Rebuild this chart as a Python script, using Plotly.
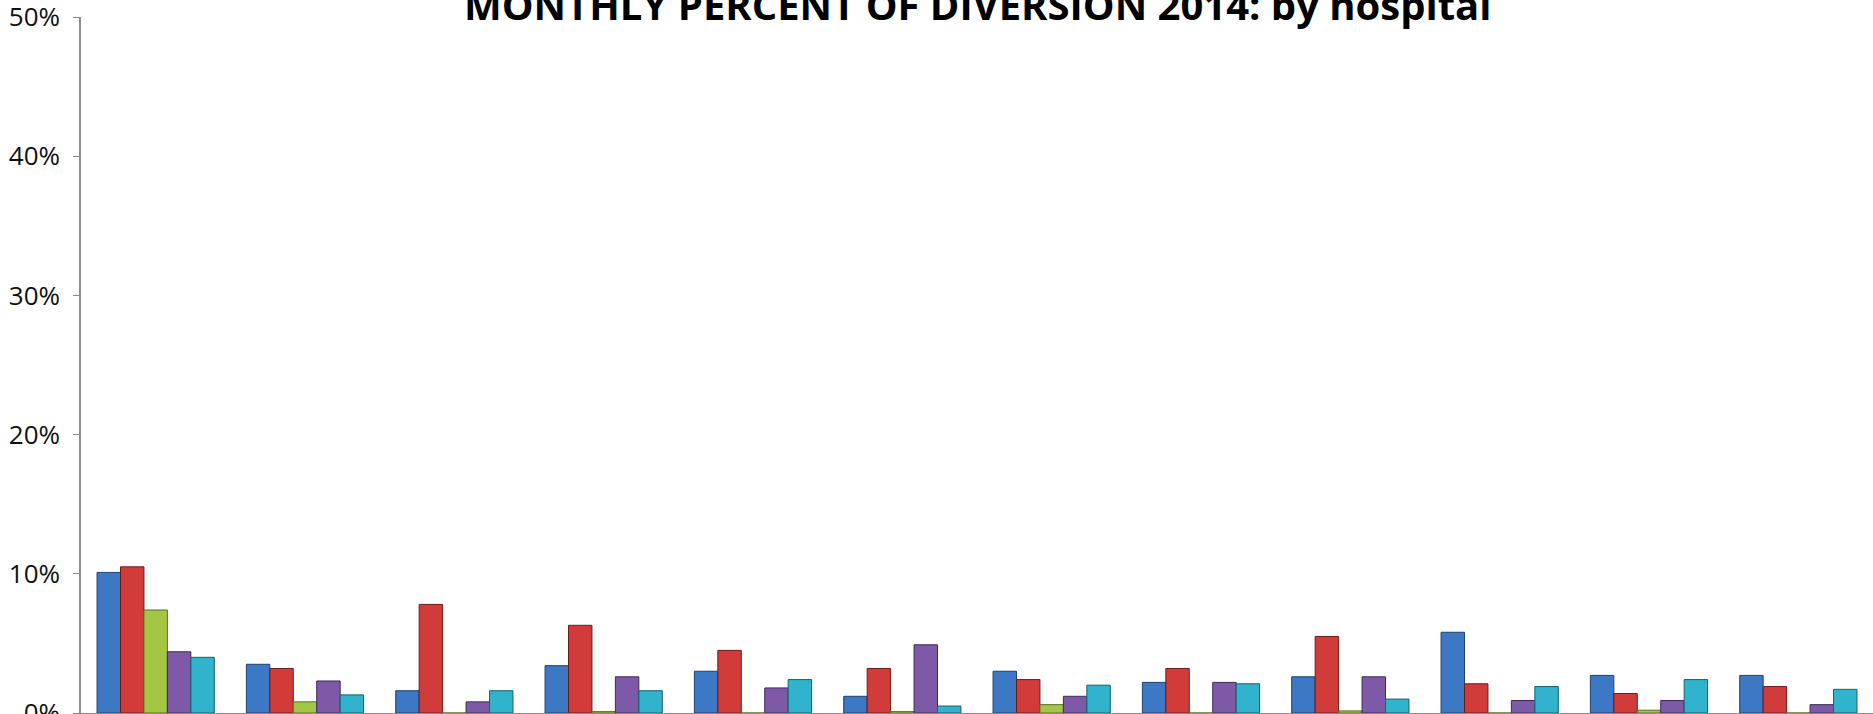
import plotly.graph_objects as go

months = ["Jan", "Feb", "Mar", "Apr", "May", "Jun", "Jul", "Aug", "Sep", "Oct", "Nov", "Dec"]
hosp_a = [10.1, 3.5, 1.6, 3.4, 3.0, 1.2, 3.0, 2.2, 2.6, 5.8, 2.7, 2.7]
hosp_b = [10.5, 3.2, 7.8, 6.3, 4.5, 3.2, 2.4, 3.2, 5.5, 2.1, 1.4, 1.9]
hosp_c = [7.4, 0.8, 0.0, 0.1, 0.0, 0.1, 0.6, 0.0, 0.15, 0.0, 0.2, 0.0]
hosp_d = [4.4, 2.3, 0.8, 2.6, 1.8, 4.9, 1.2, 2.2, 2.6, 0.9, 0.9, 0.6]
hosp_e = [4.0, 1.3, 1.6, 1.6, 2.4, 0.5, 2.0, 2.1, 1.0, 1.9, 2.4, 1.7]
series_names = ["Hospital A", "Hospital B", "Hospital C", "Hospital D", "Hospital E"]
colors = ["#3c78c3", "#d13c3a", "#a3c644", "#7d59a8", "#31b2cd"]
edges = ["#1f4270", "#6e1a19", "#5a7020", "#3f2b5a", "#16606f"]

fig = go.Figure()
for name, vals, c, e in zip(series_names, [hosp_a, hosp_b, hosp_c, hosp_d, hosp_e], colors, edges):
    fig.add_trace(go.Bar(
        x=months, y=[v / 100 for v in vals], name=name,
        marker=dict(color=c, line=dict(color=e, width=1)),
    ))

fig.update_layout(
    width=1873, height=714,
    margin=dict(l=81, r=0, t=17, b=1),
    barmode="group", bargap=0.215, bargroupgap=0,
    plot_bgcolor="white", paper_bgcolor="white",
    showlegend=False,
    font=dict(family="Open Sans", color="black"),
    xaxis=dict(showticklabels=False, showline=True, linecolor="#8c8c8c", linewidth=2,
               ticks="", showgrid=False, automargin=False),
    yaxis=dict(range=[0, 0.5], tickvals=[0, 0.1, 0.2, 0.3, 0.4, 0.5], tickformat=".0%",
               showline=True, linecolor="#8c8c8c", linewidth=1.5, ticks="outside",
               ticklen=6, tickcolor="#8c8c8c", showgrid=False, zeroline=False,
               automargin=False, ticklabeloverflow="allow",
               tickfont=dict(size=26, family="Open Sans", color="#111"), ticklabelstandoff=8),
    annotations=[dict(text="<b>MONTHLY PERCENT OF DIVERSION 2014: by hospital</b>",
                      xref="paper", yref="paper", x=0.5, y=0.976, xanchor="center",
                      yanchor="bottom", showarrow=False,
                      font=dict(size=40, family="Open Sans", color="black"))],
)
fig.write_html("out.html", config={"displayModeBar": False},
               post_script="document.body.style.margin='0';document.body.style.overflow='hidden';")
